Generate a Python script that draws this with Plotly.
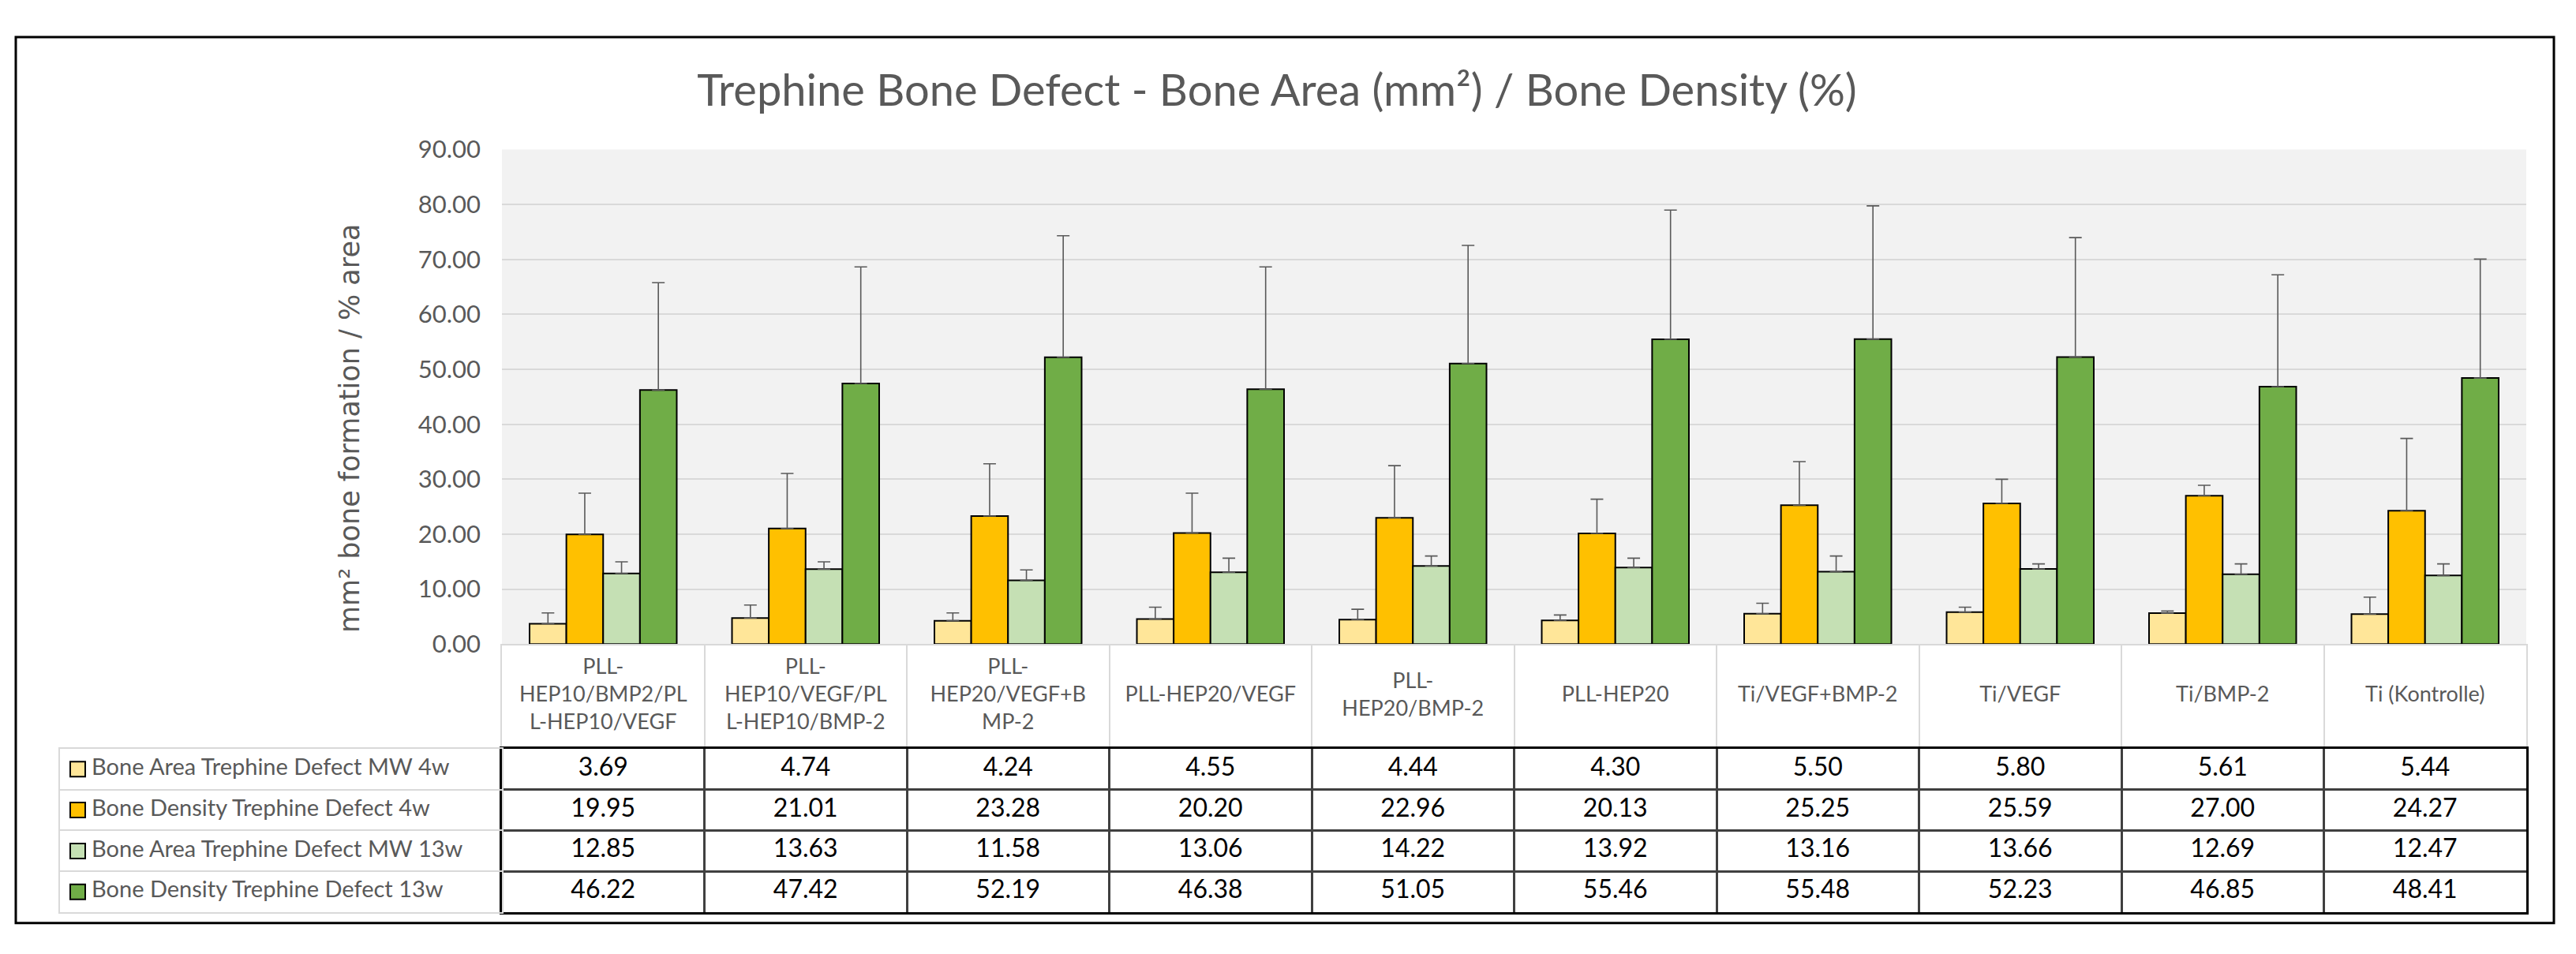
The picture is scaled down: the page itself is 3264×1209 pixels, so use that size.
import plotly.graph_objects as go

# ---------------- data ----------------
categories = [
    "PLL-HEP10/BMP2/PLL-HEP10/VEGF",
    "PLL-HEP10/VEGF/PLL-HEP10/BMP-2",
    "PLL-HEP20/VEGF+BMP-2",
    "PLL-HEP20/VEGF",
    "PLL-HEP20/BMP-2",
    "PLL-HEP20",
    "Ti/VEGF+BMP-2",
    "Ti/VEGF",
    "Ti/BMP-2",
    "Ti (Kontrolle)",
]
category_labels = [
    "PLL-<br>HEP10/BMP2/PL<br>L-HEP10/VEGF",
    "PLL-<br>HEP10/VEGF/PL<br>L-HEP10/BMP-2",
    "PLL-<br>HEP20/VEGF+B<br>MP-2",
    "PLL-HEP20/VEGF",
    "PLL-<br>HEP20/BMP-2",
    "PLL-HEP20",
    "Ti/VEGF+BMP-2",
    "Ti/VEGF",
    "Ti/BMP-2",
    "Ti (Kontrolle)",
]
series_names = [
    "Bone Area Trephine Defect MW 4w",
    "Bone Density Trephine Defect 4w",
    "Bone Area Trephine Defect MW 13w",
    "Bone Density Trephine Defect 13w",
]
area_4w = [3.69, 4.74, 4.24, 4.55, 4.44, 4.30, 5.50, 5.80, 5.61, 5.44]
density_4w = [19.95, 21.01, 23.28, 20.20, 22.96, 20.13, 25.25, 25.59, 27.00, 24.27]
area_13w = [12.85, 13.63, 11.58, 13.06, 14.22, 13.92, 13.16, 13.66, 12.69, 12.47]
density_13w = [46.22, 47.42, 52.19, 46.38, 51.05, 55.46, 55.48, 52.23, 46.85, 48.41]
# upper error bars (SD)
err_area_4w = [1.98, 2.36, 1.43, 2.16, 1.89, 0.98, 1.93, 0.91, 0.39, 3.09]
err_density_4w = [7.51, 10.03, 9.52, 7.26, 9.51, 6.23, 7.94, 4.40, 1.89, 13.15]
err_area_13w = [2.12, 1.34, 1.90, 2.57, 1.80, 1.71, 2.86, 0.92, 1.89, 2.11]
err_density_13w = [19.55, 21.21, 22.11, 22.25, 21.49, 23.52, 24.27, 21.74, 20.35, 21.65]
y_ticks = [0, 10, 20, 30, 40, 50, 60, 70, 80, 90]

values = [area_4w, density_4w, area_13w, density_13w]
errors = [err_area_4w, err_density_4w, err_area_13w, err_density_13w]
colors = ["#FFE699", "#FFC000", "#C5E0B4", "#70AD47"]

# ---------------- layout geometry (pixels) ----------------
W, H = 3264, 1209
def fx(px):
    return px / W
def fy(py):
    return 1 - py / H

PLOT_L, PLOT_R = 636, 3201
PLOT_T, PLOT_B = 175, 822
CAT_B = 959
TAB_B = 1173
LEG_L = 76

FONT = "Lato, 'Open Sans', 'Noto Sans', sans-serif"
GREY = "#595959"

fig = go.Figure()

# ---- bars ----
for name, vals, errs, col in zip(series_names, values, errors, colors):
    fig.add_trace(go.Bar(
        x=categories, y=vals, name=name,
        marker=dict(color=col, line=dict(color="black", width=2)),
        error_y=dict(type="data", array=errs, arrayminus=[0] * len(errs),
                     symmetric=False, color=GREY, thickness=1.6, width=8),
        xaxis="x", yaxis="y", showlegend=False,
    ))

n = len(categories)
idx = list(range(n))

# ---- category label row ----
fig.add_trace(go.Scatter(
    x=idx, y=[0.5] * n, text=category_labels, mode="text",
    textposition="middle center",
    textfont=dict(family=FONT, size=27, color=GREY),
    xaxis="x2", yaxis="y2", showlegend=False, hoverinfo="skip",
))

# ---- data table values ----
for r, vals in enumerate(values):
    fig.add_trace(go.Scatter(
        x=idx, y=[r] * n, text=[f"{v:.2f}" for v in vals], mode="text",
        textposition="middle center",
        textfont=dict(family=FONT, size=32, color="black"),
        xaxis="x3", yaxis="y3", showlegend=False, hoverinfo="skip",
    ))

# ---- legend column (swatches + names) ----
rows = list(range(len(series_names)))
fig.add_trace(go.Scatter(
    x=[22.5] * len(rows), y=rows, mode="markers",
    marker=dict(symbol="square", size=19, color=colors,
                line=dict(color="black", width=2)),
    xaxis="x4", yaxis="y4", showlegend=False, hoverinfo="skip",
))
fig.add_trace(go.Scatter(
    x=[40] * len(rows), y=rows, text=series_names, mode="text",
    textposition="middle right",
    textfont=dict(family=FONT, size=29, color=GREY),
    xaxis="x4", yaxis="y4", showlegend=False, hoverinfo="skip",
))

bounds = [i - 0.5 for i in range(n + 1)]
row_bounds = [r - 0.5 for r in range(len(series_names) + 1)]

fig.update_layout(
    width=W, height=H,
    margin=dict(l=0, r=0, t=0, b=0),
    paper_bgcolor="white", plot_bgcolor="white",
    barmode="group", bargap=0.273, bargroupgap=0,
    font=dict(family=FONT, color=GREY),
    title=dict(text="Trephine Bone Defect - Bone Area (mm²) / Bone Density (%)",
               x=fx(1618), y=fy(97), xanchor="center", yanchor="middle",
               xref="paper", yref="paper",
               font=dict(family=FONT, size=56, color=GREY)),
    xaxis=dict(domain=[fx(PLOT_L), fx(PLOT_R)], anchor="y",
               showticklabels=False, ticks="", showgrid=False,
               showline=True, linecolor="#d9d9d9", linewidth=2,
               categoryorder="array", categoryarray=categories, fixedrange=True),
    yaxis=dict(domain=[fy(PLOT_B), fy(PLOT_T)], anchor="x",
               range=[0, 90], tickvals=y_ticks, tickformat=".2f",
               ticks="", ticklabelstandoff=26,
               tickfont=dict(family=FONT, size=31, color=GREY),
               showgrid=True, gridcolor="#d9d9d9", gridwidth=2,
               zeroline=False, showline=False, fixedrange=True),
    xaxis2=dict(domain=[fx(PLOT_L), fx(PLOT_R)], anchor="y2",
                range=[-0.5, n - 0.5], tickvals=bounds,
                showticklabels=False, ticks="", showgrid=True,
                gridcolor="#d9d9d9", gridwidth=2, zeroline=False,
                showline=False, fixedrange=True),
    yaxis2=dict(domain=[fy(CAT_B), fy(PLOT_B)], anchor="x2",
                range=[0, 1], showticklabels=False, ticks="",
                showgrid=False, zeroline=False,
                showline=True, mirror=True, linecolor="#d9d9d9", linewidth=2,
                fixedrange=True),
    xaxis3=dict(domain=[fx(PLOT_L), fx(PLOT_R)], anchor="y3",
                range=[-0.5, n - 0.5], tickvals=bounds,
                showticklabels=False, ticks="", showgrid=True,
                gridcolor="#404040", gridwidth=2.5, zeroline=False,
                showline=True, mirror=True, linecolor="black", linewidth=2.5,
                fixedrange=True),
    yaxis3=dict(domain=[fy(TAB_B), fy(CAT_B)], anchor="x3",
                range=[len(series_names) - 0.5, -0.5], tickvals=row_bounds,
                showticklabels=False, ticks="", showgrid=True,
                gridcolor="#404040", gridwidth=2.5, zeroline=False,
                showline=True, mirror=True, linecolor="black", linewidth=2.5,
                fixedrange=True),
    xaxis4=dict(domain=[fx(LEG_L), fx(PLOT_L)], anchor="y4",
                range=[0, PLOT_L - LEG_L], showticklabels=False, ticks="",
                showgrid=False, zeroline=False,
                showline=True, mirror=True, linecolor="#d9d9d9", linewidth=2,
                fixedrange=True),
    yaxis4=dict(domain=[fy(TAB_B), fy(CAT_B)], anchor="x4",
                range=[len(series_names) - 0.5, -0.5], tickvals=row_bounds,
                showticklabels=False, ticks="", showgrid=True,
                gridcolor="#d9d9d9", gridwidth=2, zeroline=False,
                showline=True, mirror=True, linecolor="#d9d9d9", linewidth=2,
                fixedrange=True),
    shapes=[
        # grey plot-area background
        dict(type="rect", xref="x domain", yref="y domain", x0=0, x1=1, y0=0, y1=1,
             fillcolor="#f2f2f2", line=dict(width=0), layer="below"),
        # outer chart border
        dict(type="rect", xref="paper", yref="paper",
             x0=fx(20), x1=fx(3236), y0=fy(1187), y1=fy(28),
             line=dict(color="black", width=3), fillcolor="rgba(0,0,0,0)", layer="above"),
    ],
    annotations=[
        dict(text="mm² bone formation / % area", textangle=-90,
             x=fx(443), y=fy(540), xref="paper", yref="paper",
             xanchor="center", yanchor="middle", showarrow=False,
             font=dict(family="'DejaVu Sans', Verdana, sans-serif", size=35, color=GREY)),
    ],
)

fig.write_html("out.html", config={"displayModeBar": False},
               post_script="document.body.style.margin='0';document.body.style.overflow='hidden';")
